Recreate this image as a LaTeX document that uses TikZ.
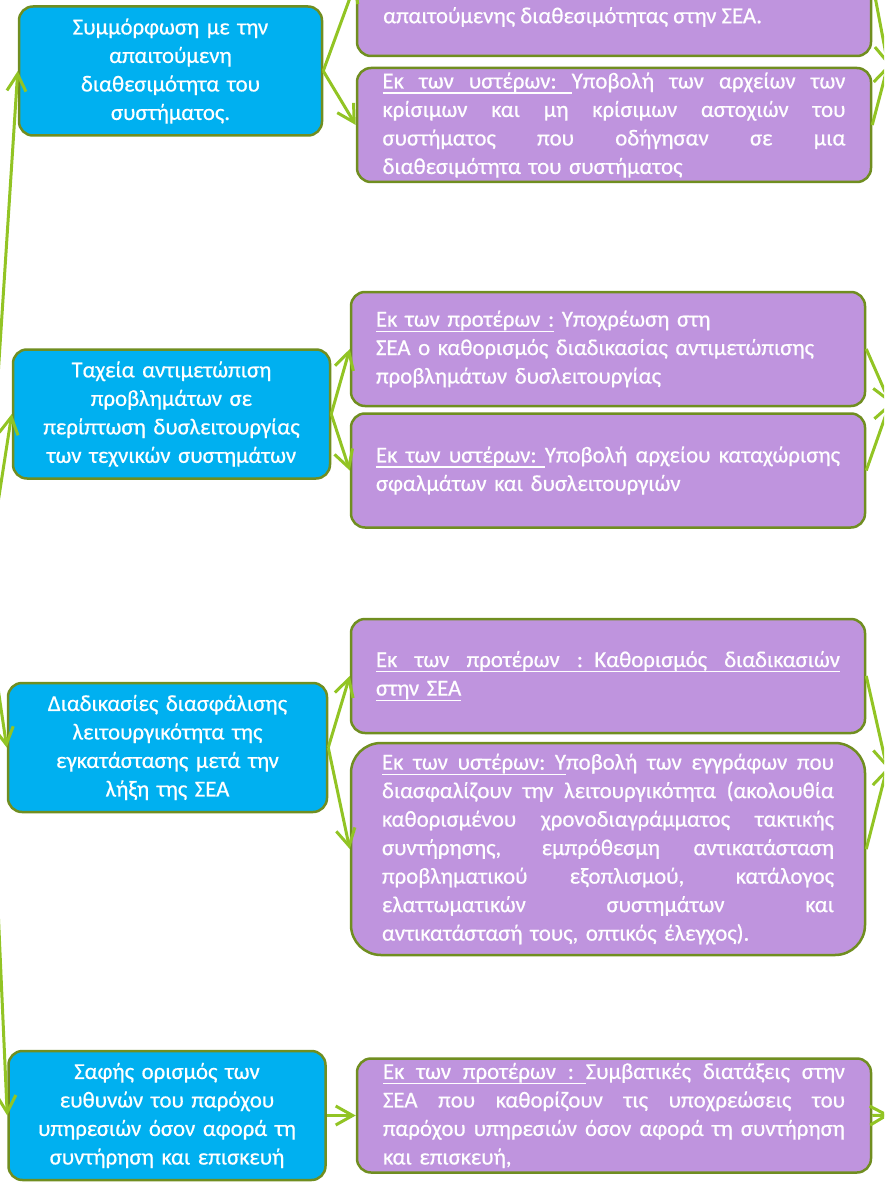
\documentclass[tikz,border=0pt]{standalone}
\usepackage{fontspec}
\setmainfont{Carlito}[FakeBold=0.6]
\usetikzlibrary{arrows.meta}
\definecolor{taskblue}{RGB}{0,176,240}
\definecolor{notepurple}{RGB}{191,148,222}
\definecolor{rim}{RGB}{112,142,32}
\definecolor{linkgreen}{RGB}{146,196,36}
\newcommand\fl[1]{\makebox[\linewidth][s]{\spaceskip=\fontdimen2\font plus 1fill\relax#1}}
\newcommand\uw[1]{\leavevmode\setbox0\hbox{#1}\rlap{\vrule height-4pt depth5.4pt width\wd0}\box0\relax}
\newcommand\us{\leaders\hrule height-4pt depth5.4pt\hskip\fontdimen2\font plus 1fill\relax}
\begin{document}
\begin{tikzpicture}[x=1pt, y=-1pt,
    box/.style={draw=rim, line width=2.5pt, rounded corners=14pt, text=white,
      font=\fontsize{22.8}{28.5}\selectfont},
    task/.style={box, fill=taskblue, align=center, text width=290pt, minimum height=129pt},
    note/.style={box, fill=notepurple, align=left, minimum width=514pt, minimum height=114pt},
    link/.style={draw=linkgreen, line width=3pt, -{Straight Barb[length=17pt,width=19pt]}}]
  \useasboundingbox (0,0) rectangle (884,1182);
  \clip (0,0) rectangle (884,1182);
  \coordinate (src) at (-16,593);
  \coordinate (endA) at (888,65);
  \coordinate (endB) at (890,403);
  \coordinate (endC) at (887,768);
  \coordinate (endD) at (890,1115);

  \node (sym) [task, minimum width=303pt] at (170.5,71) {Συμμόρφωση με την\\απαιτούμενη\\διαθεσιμότητα του\\συστήματος.};
  \node (fix) [task, minimum width=317pt] at (171.5,414) {Ταχεία αντιμετώπιση\\προβλημάτων σε\\περίπτωση δυσλειτουργίας\\των τεχνικών συστημάτων};
  \node (ops) [task, minimum width=319pt] at (167.5,747.5) {Διαδικασίες διασφάλισης\\λειτουργικότητα της\\εγκατάστασης  μετά την\\λήξη της  ΣΕΑ};
  \node (duty) [task, minimum width=317pt] at (167,1115.5) {Σαφής ορισμός των\\ευθυνών του παρόχου\\υπηρεσιών όσον αφορά τη\\συντήρηση και επισκευή};

  \node (availPre) [note, minimum height=148pt] at (614,-18) {};
  \node (availPreTxt) [text=white, font=\fontsize{22.8}{28.5}\selectfont, anchor=west, inner sep=0pt] at (383,17) {απαιτούμενης διαθεσιμότητας στην ΣΕΑ.};
  \node (availPost) [note, text width=463pt] at (614,125) {\fl{\uw{Εκ}\us\uw{των}\us\uw{υστέρων:}\us Υποβολή των αρχείων των}\\
    \fl{κρίσιμων και μη κρίσιμων αστοχιών του}\\
    \fl{συστήματος που οδήγησαν σε μια}\\
    διαθεσιμότητα του συστήματος};
  \node (fixPre) [note, text width=464pt] at (608,349) {\uw{Εκ των προτέρων :} Υποχρέωση στη\\
    ΣΕΑ ο καθορισμός διαδικασίας αντιμετώπισης\\
    προβλημάτων δυσλειτουργίας};
  \node (fixPost) [note, text width=464pt] at (608,470.5) {\fl{\uw{Εκ}\us\uw{των}\us\uw{υστέρων:}\us Υποβολή αρχείου καταχώρισης}\\
    σφαλμάτων και δυσλειτουργιών};
  \node (opsPre) [note, text width=464pt] at (608,676) {\uw{\fl{Εκ των προτέρων : Καθορισμός διαδικασιών}}\\
    \uw{στην ΣΕΑ}};
  \node (opsPost) [note, text width=452pt, minimum height=212pt, rounded corners=30pt] at (608,849) {\fl{\uw{Εκ}\us\uw{των}\us\uw{υστέρων:}\us\uw{Υ}ποβολή των εγγράφων που}\\
    \fl{διασφαλίζουν την λειτουργικότητα (ακολουθία}\\
    \fl{καθορισμένου χρονοδιαγράμματος τακτικής}\\
    \fl{συντήρησης, εμπρόθεσμη αντικατάσταση}\\
    \fl{προβληματικού εξοπλισμού, κατάλογος}\\
    \fl{ελαττωματικών συστημάτων και}\\
    αντικατάστασή τους, οπτικός έλεγχος).};
  \node (dutyPre) [note, text width=462pt] at (614,1115.5) {\fl{\uw{Εκ}\us\uw{των}\us\uw{προτέρων}\us\uw{:}\us Συμβατικές διατάξεις στην}\\
    \fl{ΣΕΑ που καθορίζουν τις υποχρεώσεις του}\\
    \fl{παρόχου υπηρεσιών όσον αφορά τη συντήρηση}\\
    και επισκευή,};

  \draw[link] (src) -- (sym.west);
  \draw[link] (src) -- (fix.west);
  \draw[link] (src) -- (ops.west);
  \draw[link] (src) -- (duty.west);
  \draw[link] (sym.east) -- (availPre.west);
  \draw[link] (sym.east) -- (availPost.west);
  \draw[link] (fix.east) -- (fixPre.west);
  \draw[link] (fix.east) -- (fixPost.west);
  \draw[link] (ops.east) -- (opsPre.west);
  \draw[link] (ops.east) -- (opsPost.west);
  \draw[link] (duty.east) -- (dutyPre.west);
  \draw[link] (availPre.east) -- (endA);
  \draw[link] (availPost.east) -- (endA);
  \draw[link] (fixPre.east) -- (endB);
  \draw[link] (fixPost.east) -- (endB);
  \draw[link] (opsPre.east) -- (endC);
  \draw[link] (opsPost.east) -- (endC);
  \draw[link] (dutyPre.east) -- (endD);
\end{tikzpicture}
\end{document}
